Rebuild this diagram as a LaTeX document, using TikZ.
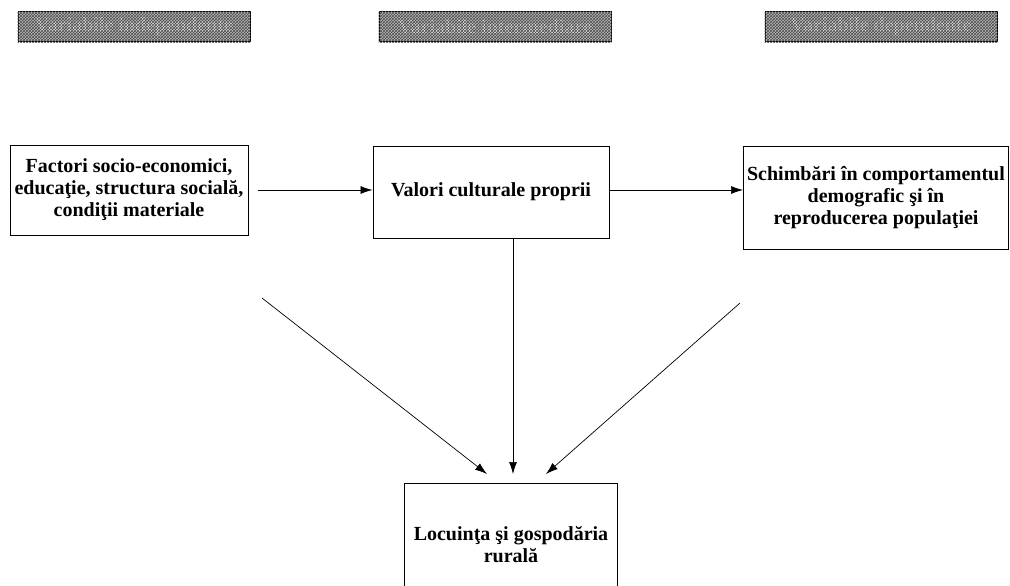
\documentclass[tikz,border=0pt]{standalone}
\usepackage{fontspec}
\setmainfont{Liberation Serif}
\usetikzlibrary{patterns,arrows.meta}

\begin{document}
\begin{tikzpicture}[x=1pt,y=-1pt,
  box/.style={draw,line width=1pt,align=center,font=\bfseries\fontsize{20}{22}\selectfont,inner sep=1pt},
  hdr/.style={draw,line width=1pt,fill=gray!55,minimum width=232pt,minimum height=30pt,
    font=\bfseries\fontsize{20}{20}\selectfont,text=gray!15,inner sep=0pt},
  arr/.style={-{Latex[length=12pt,width=8pt]},line width=0.7pt}]
  \useasboundingbox (0,0) rectangle (1010,586);

  % Column headers
  \node[hdr] (h1) at (134,27) {Variabile independente};
  \node[hdr] (h2) at (495,27) {Variabile intermediare};
  \node[hdr] (h3) at (881,27) {Variabile dependente};
  \foreach \h in {h1,h2,h3}
    \fill[pattern=crosshatch,pattern color=black!70] (\h.south west) rectangle (\h.north east);

  % Boxes
  \node[box,minimum width=238pt,minimum height=90pt] (fact) at (129,190)
    {Factori socio-economici,\\educaţie, structura socială,\\condiţii materiale};
  \node[box,minimum width=236pt,minimum height=92pt] (val) at (491,192)
    {Valori culturale proprii};
  \node[box,minimum width=265pt,minimum height=103pt] (schimb) at (876,198)
    {Schimbări în comportamentul\\demografic şi în\\reproducerea populaţiei};
  \node[box,minimum width=213pt,minimum height=124pt] (loc) at (511,545)
    {Locuinţa şi gospodăria\\rurală};

  % Free ends of the arrows
  \coordinate (a0) at (258,190);
  \coordinate (a1) at (262,298);
  \coordinate (a2) at (487,474);
  \coordinate (c1) at (740,303);
  \coordinate (c2) at (546,474);
  \coordinate (b2) at (513,474);

  % Arrows
  \draw[arr] (a0) -- (val.west |- a0);
  \draw[arr] (val.east |- a0) -- (schimb.west |- a0);
  \draw[arr] (val.south -| b2) -- (b2);
  \draw[arr] (a1) -- (a2);
  \draw[arr] (c1) -- (c2);
\end{tikzpicture}
\end{document}
